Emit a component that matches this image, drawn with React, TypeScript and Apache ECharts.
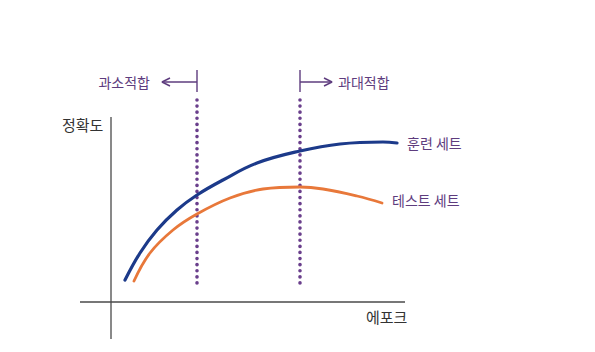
import React, { useEffect, useRef } from "react";
import * as echarts from "echarts";

// Data (epoch units on x, accuracy units on y)
const trainEpochs = [1.4, 2.9, 4.6, 6.6, 8.6, 11.2, 14.6, 18.9, 22.9, 27.2, 28.6];
const trainAcc = [11, 24.5, 36, 46, 53.5, 61, 69.5, 75.5, 79, 80, 79.5];
const testEpochs = [2.3, 3.9, 6.2, 8.6, 11.9, 15.2, 18.9, 21.2, 24.6, 27.1];
const testAcc = [10.5, 24.5, 36, 44, 52, 56.5, 57.5, 56.5, 53, 49.5];

const boundaryEpochs = [8.6, 18.9]; // underfit / overfit boundaries
const boundaryRange = [9.5, 101];
const markerRange = [105, 116];
const arrowLevel = 110;
const arrowTips = [5.1, 22.1];
const headSize = [0.8, 2];

const xRange = [-3.1, 29.4];
const yRange = [-18.5, 121];
const axisXExtent = [-3.1, 29.4];
const axisYExtent = [-18.5, 92.5];

const seriesNames = ["훈련 세트", "테스트 세트"];
const regionNames = ["과소적합", "과대적합"];
const axisNames = ["정확도", "에포크"];

const PURPLE = "#5e3c7e";
const DOT = "#6a3f8c";
const BLUE = "#1c3a8a";
const ORANGE = "#e8783a";
const AXIS = "#4a4a4a";
const FONT = "'Noto Sans CJK KR', 'Noto Sans', sans-serif";

export default function App() {
  const ref = useRef<HTMLDivElement>(null);
  useEffect(() => {
    if (!ref.current) return;
    const chart = echarts.init(ref.current, null, { renderer: "svg" });
    const plain = (data: number[][], color: string, width: number, extra: any = {}) => ({
      type: "line",
      data,
      symbol: "none",
      silent: true,
      lineStyle: { color, width, ...extra },
      z: 2,
    });
    const series: any[] = [
      plain([[0, axisYExtent[0]], [0, axisYExtent[1]]], AXIS, 1.3),
      plain([[axisXExtent[0], 0], [axisXExtent[1], 0]], AXIS, 1.3),
    ];
    boundaryEpochs.forEach((bx, i) => {
      series.push(
        plain([[bx, boundaryRange[0]], [bx, boundaryRange[1]]], DOT, 3.6, {
          type: [0.1, 6],
          cap: "round",
        })
      );
      series.push(plain([[bx, markerRange[0]], [bx, markerRange[1]]], PURPLE, 1.4));
      const tip = arrowTips[i];
      const dir = tip < bx ? 1 : -1;
      series.push(plain([[bx, arrowLevel], [tip, arrowLevel]], PURPLE, 1.4));
      series.push(
        plain(
          [
            [tip + dir * headSize[0], arrowLevel + headSize[1]],
            [tip, arrowLevel],
            [tip + dir * headSize[0], arrowLevel - headSize[1]],
          ],
          PURPLE,
          1.4
        )
      );
    });
    series.push({
      type: "line",
      name: seriesNames[0],
      data: trainEpochs.map((x, i) => [x, trainAcc[i]]),
      smooth: 0.4,
      symbol: "none",
      lineStyle: { color: BLUE, width: 3.2, cap: "round" },
      endLabel: {
        show: true,
        formatter: seriesNames[0],
        color: PURPLE,
        fontFamily: FONT,
        fontSize: 14,
        distance: 10,
      },
      z: 4,
    });
    series.push({
      type: "line",
      name: seriesNames[1],
      data: testEpochs.map((x, i) => [x, testAcc[i]]),
      smooth: 0.4,
      symbol: "none",
      lineStyle: { color: ORANGE, width: 2.8, cap: "round" },
      endLabel: {
        show: true,
        formatter: seriesNames[1],
        color: PURPLE,
        fontFamily: FONT,
        fontSize: 14,
        distance: 10,
        offset: [0, -3],
      },
      z: 3,
    });

    chart.setOption({
      animation: false,
      backgroundColor: "#ffffff",
      grid: { left: 80, right: 190, top: 60, bottom: 13, containLabel: false },
      xAxis: {
        type: "value",
        min: xRange[0],
        max: xRange[1],
        show: false,
      },
      yAxis: {
        type: "value",
        min: yRange[0],
        max: yRange[1],
        show: false,
      },
      graphic: [
        {
          type: "text",
          x: 150,
          y: 82,
          style: {
            text: regionNames[0],
            fill: PURPLE,
            font: `14px ${FONT}`,
            align: "right",
            verticalAlign: "middle",
          },
        },
        {
          type: "text",
          x: 338,
          y: 82,
          style: {
            text: regionNames[1],
            fill: PURPLE,
            font: `14px ${FONT}`,
            align: "left",
            verticalAlign: "middle",
          },
        },
        {
          type: "text",
          x: 62,
          y: 124,
          style: {
            text: axisNames[0],
            fill: "#333",
            font: `15px ${FONT}`,
            align: "left",
            verticalAlign: "middle",
          },
        },
        {
          type: "text",
          x: 366,
          y: 316,
          style: {
            text: axisNames[1],
            fill: "#333",
            font: `15px ${FONT}`,
            align: "left",
            verticalAlign: "middle",
          },
        },
      ],
      series,
    });
    return () => chart.dispose();
  }, []);
  return <div ref={ref} style={{ width: 595, height: 352, position: "absolute", left: 0, top: 0 }} />;
}
